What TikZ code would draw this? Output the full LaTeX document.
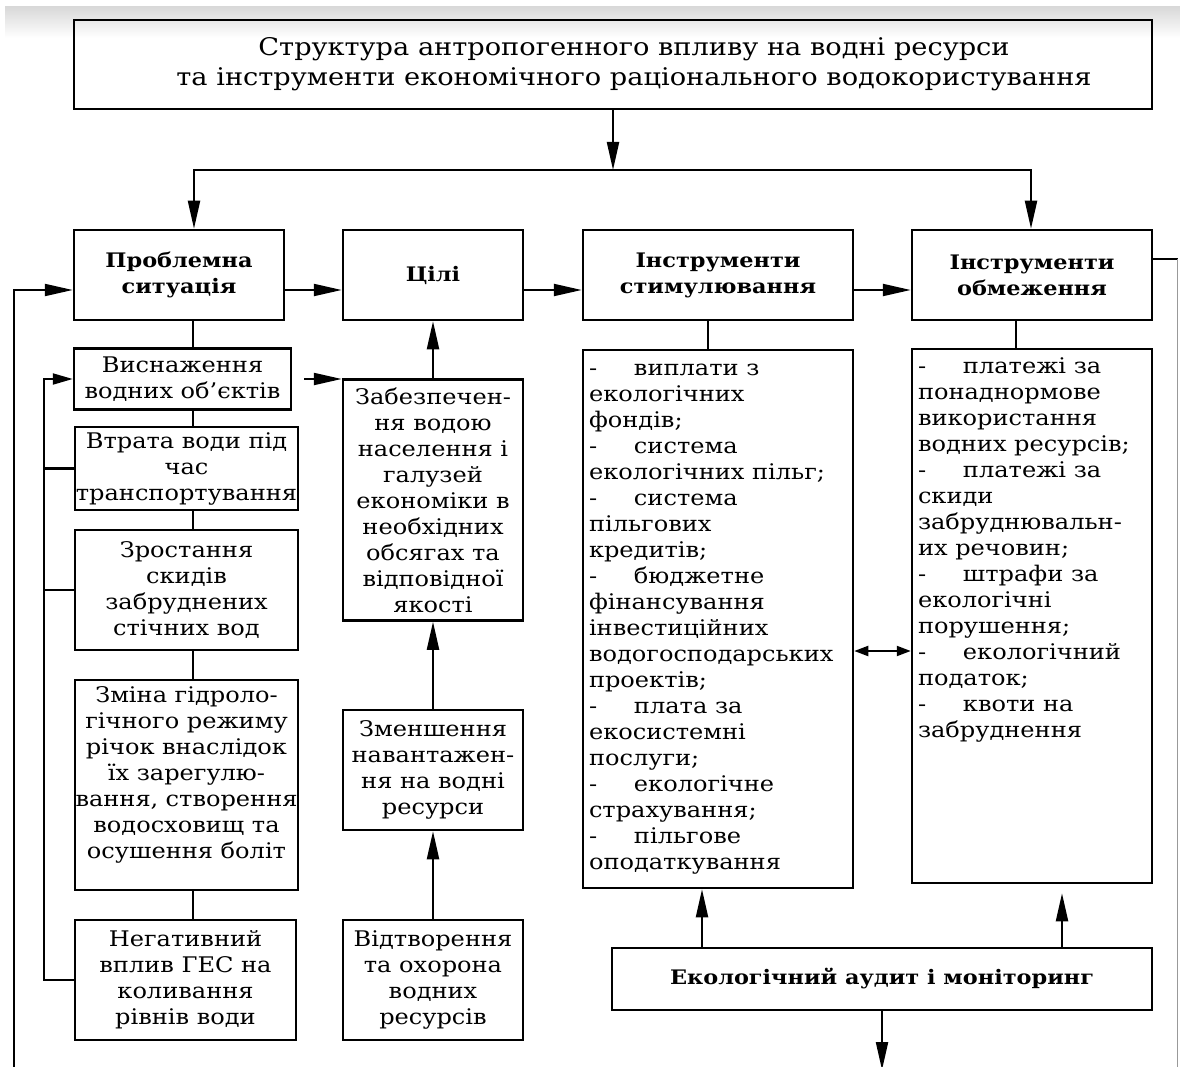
\documentclass[tikz,border=0pt]{standalone}
\usepackage{fontspec}
\setmainfont{DejaVu Serif}[FakeStretch=1.12]
\usetikzlibrary{arrows.meta,calc}
\newcommand{\fbody}{\fontsize{21.5}{26}\selectfont}
\newcommand{\fhead}{\fontsize{20}{26}\selectfont\bfseries}
\newcommand{\ftitle}{\fontsize{24.3}{30}\selectfont}
\newcommand{\li}{\makebox[45pt][l]{-}}
\tikzset{
  x=1pt, y=-1pt,
  box/.style={draw, line width=2.5pt, align=center, inner sep=0pt, font=\fbody},
  hbox/.style={box, font=\fhead},
  conn/.style={line width=2.1pt},
  arr/.style={conn, -{Triangle[length=28pt,width=12pt]}},
  darr/.style={conn, {Triangle[length=14pt,width=10pt]}-{Triangle[length=14pt,width=10pt]}},
}
\begin{document}
\begin{tikzpicture}
\useasboundingbox (0,0) rectangle (1180,1067);
\shade[top color=black!15, bottom color=white, draw=none] (5,7) rectangle (1180,38);

% title
\node[box, font=\ftitle, minimum width=1078pt, minimum height=89pt] (title) at (613,64.5)
  {\hspace*{42pt}Структура антропогенного впливу на водні ресурси\\\hspace*{42pt}та інструменти економічного раціонального водокористування};

% header row
\node[hbox, minimum width=210pt, minimum height=90pt] (prob) at (179,275) {Проблемна\\ситуація};
\node[hbox, minimum width=180pt, minimum height=90pt] (goals) at (433,275) {Цілі};
\node[hbox, minimum width=270pt, minimum height=90pt] (stim) at (718,275) {Інструменти\\стимулювання};
\node[hbox, minimum width=240pt, minimum height=90pt] (restr) at (1032,275) {Інструменти\\обмеження};

% column 1
\node[box, minimum width=217pt, minimum height=61pt] (visn) at (182.5,379) {Виснаження\\водних об’єктів};
\node[box, minimum width=223pt, minimum height=83pt] (vtrata) at (186.5,468.5) {Втрата води під\\час\\транспортування};
\node[box, minimum width=223pt, minimum height=120pt] (zrost) at (186.5,590) {Зростання\\скидів\\забруднених\\стічних вод};
\node[box, minimum width=223pt, minimum height=210pt] (zmina) at (186.5,785)
  {\begin{minipage}[t][200pt][t]{222pt}\centering\vspace*{2pt}Зміна гідроло-\\гічного режиму\\річок внаслідок\\їх зарегулю-\\вання, створення\\водосховищ та\\осушення боліт\end{minipage}};
\node[box, minimum width=221pt, minimum height=120pt] (neg) at (185.5,980) {Негативний\\вплив ГЕС на\\коливання\\рівнів води};

% column 2
\node[box, minimum width=180pt, minimum height=241pt] (zabez) at (433,500) {Забезпечен-\\ня водою\\населення і\\галузей\\економіки в\\необхідних\\обсягах та\\відповідної\\якості};
\node[box, minimum width=180pt, minimum height=120pt] (zmensh) at (433,770) {Зменшення\\навантажен-\\ня на водні\\ресурси};
\node[box, minimum width=180pt, minimum height=120pt] (vidtv) at (433,980) {Відтворення\\та охорона\\водних\\ресурсів};

% column 3 lists
\node[box, align=left, minimum width=270pt, minimum height=538pt] (stimL) at (718,619)
  {\begin{minipage}[t][528pt][t]{258pt}\raggedright\vspace*{9pt}%
\li виплати з\\екологічних\\фондів;\\
\li система\\екологічних пільг;\\
\li система\\пільгових\\кредитів;\\
\li бюджетне\\фінансування\\інвестиційних\\водогосподарських\\проектів;\\
\li плата за\\екосистемні\\послуги;\\
\li екологічне\\страхування;\\
\li пільгове\\оподаткування\end{minipage}};
\node[box, align=left, minimum width=240pt, minimum height=534pt] (restrL) at (1032,616)
  {\begin{minipage}[t][524pt][t]{228pt}\raggedright\vspace*{4pt}%
\li платежі за\\понаднормове\\використання\\водних ресурсів;\\
\li платежі за\\скиди\\забруднювальн-\\их речовин;\\
\li штрафи за\\екологічні\\порушення;\\
\li екологічний\\податок;\\
\li квоти на\\забруднення\end{minipage}};

\node[hbox, minimum width=540pt, minimum height=62pt] (audit) at (882,979) {Екологічний аудит і моніторинг};

% coordinates
\coordinate (jn) at (613,170);
\coordinate (c1) at (193,0);
\coordinate (il) at (44,0);
\coordinate (lo) at (14,1070);
\coordinate (rr) at (1177.5,0);
\coordinate (rb) at (1177.5,1070);
\coordinate (da) at (0,651);
\coordinate (bot) at (882,1070);
\coordinate (a1) at ([xshift=-180pt]audit.north);
\coordinate (a2) at ([xshift=180pt]audit.north);
\coordinate (rt) at ([yshift=16pt]restr.east);

% connectors
\draw[arr] (title.south -| jn) -- (jn);
\draw[arr] (jn) -| ([xshift=15pt]prob.north);
\draw[arr] (jn) -| ([xshift=-1pt]restr.north);
\draw[arr] ([yshift=-15pt]prob.east) -- ([yshift=-15pt]goals.west);
\draw[arr] ([yshift=-15pt]goals.east) -- ([yshift=-15pt]stim.west);
\draw[arr] ([yshift=-15pt]stim.east) -- ([yshift=-15pt]restr.west);
\draw[arr] (lo) |- ([yshift=-15pt]prob.west);
\draw[conn] (rt) -- (rt -| rr);
\draw[line width=1.6pt, black!40] (rt -| rr) -- (rb);

\draw[conn] (prob.south -| c1) -- (visn.north -| c1);
\draw[conn] (visn.south -| c1) -- (vtrata.north -| c1);
\draw[conn] (vtrata.south -| c1) -- (zrost.north -| c1);
\draw[conn] (zrost.south -| c1) -- (zmina.north -| c1);
\draw[conn] (zmina.south -| c1) -- (neg.north -| c1);

\draw[conn, -{Triangle[length=20pt,width=11pt]}] (neg.west) -| (il |- visn.west) -- (visn.west);
\draw[conn] (vtrata.west) -- (vtrata.west -| il);
\draw[conn] (zrost.west) -- (zrost.west -| il);

\draw[arr, shorten <=12pt] (visn.east) -- (visn.east -| zabez.west);
\draw[arr] (zabez.north) -- (goals.south);
\draw[arr] (zmensh.north) -- (zabez.south);
\draw[arr] (vidtv.north) -- (zmensh.south);

\draw[conn] ([xshift=-10pt]stim.south) -- ([xshift=-10pt]stimL.north);
\draw[conn] ([xshift=-16pt]restr.south) -- ([xshift=-16pt]restrL.north);
\draw[darr] (stimL.east |- da) -- (restrL.west |- da);
\draw[arr] (a1) -- (a1 |- stimL.south);
\draw[arr, shorten >=9pt] (a2) -- (a2 |- restrL.south);
\draw[arr] (audit.south) -- (bot);
\end{tikzpicture}
\end{document}
